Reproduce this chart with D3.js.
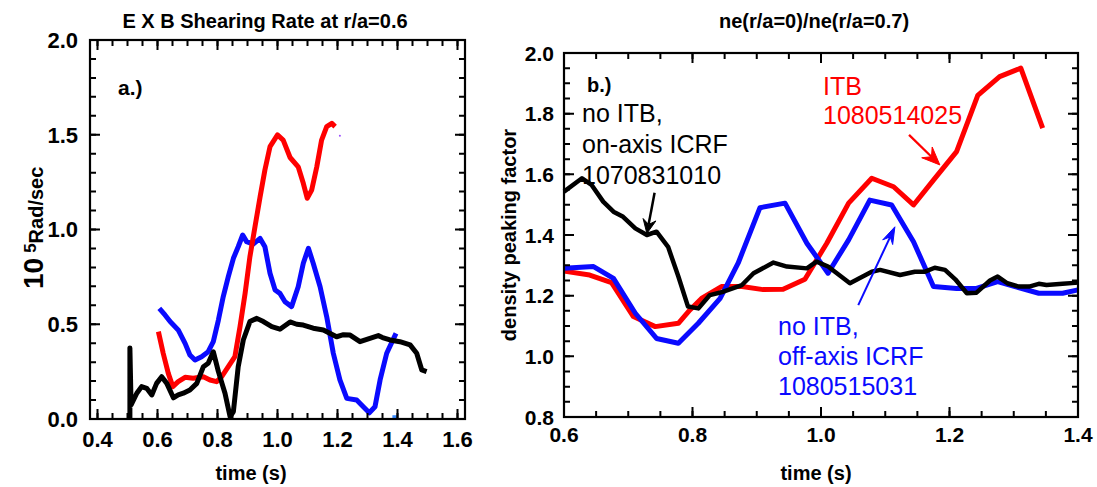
<!DOCTYPE html>
<html>
<head>
<meta charset="utf-8">
<script src="https://cdn.jsdelivr.net/npm/d3@7"></script>
<style>
  html, body { margin: 0; padding: 0; background: #fff; }
  svg { display: block; }
  text { font-family: "Liberation Sans", Arial, Helvetica, sans-serif; }
</style>
</head>
<body>
<svg id="fig" width="1097" height="487"></svg>
<script>
// ---------- panel a: E x B shearing rate at r/a = 0.6 (time [s], 10^5 rad/s) ----------
const shearNoItbOnAxis = [
  [0.508,0.000],[0.508,0.375],[0.512,0.074],[0.531,0.136],[0.547,0.171],[0.564,0.162],
  [0.581,0.127],[0.597,0.188],[0.614,0.223],[0.631,0.188],[0.653,0.112],[0.669,0.127],
  [0.686,0.136],[0.708,0.153],[0.731,0.188],[0.753,0.276],[0.769,0.294],[0.786,0.355],
  [0.803,0.250],[0.825,0.136],[0.842,0.012],[0.853,0.039],[0.869,0.276],[0.886,0.417],
  [0.908,0.514],[0.931,0.531],[0.953,0.514],[0.981,0.487],[1.008,0.474],[1.042,0.512],
  [1.064,0.500],[1.086,0.496],[1.119,0.479],[1.153,0.470],[1.197,0.434],[1.220,0.445],
  [1.242,0.443],[1.275,0.408],[1.308,0.426],[1.336,0.440],[1.350,0.430],[1.375,0.417],
  [1.408,0.408],[1.442,0.391],[1.464,0.347],[1.481,0.259],[1.497,0.250]
];
const shearItb = [
  [0.603,0.461],[0.619,0.347],[0.636,0.241],[0.651,0.171],[0.669,0.197],[0.692,0.220],
  [0.719,0.215],[0.753,0.223],[0.775,0.206],[0.797,0.197],[0.814,0.223],[0.836,0.276],
  [0.858,0.329],[0.875,0.487],[0.892,0.663],[0.908,0.856],[0.925,1.015],[0.942,1.173],
  [0.958,1.314],[0.975,1.437],[1.000,1.499],[1.019,1.472],[1.042,1.380],[1.069,1.331],
  [1.086,1.244],[1.099,1.165],[1.114,1.208],[1.131,1.331],[1.147,1.472],[1.164,1.543],
  [1.181,1.560],[1.192,1.543]
];
const shearNoItbOffAxis = [
  [0.606,0.584],[0.625,0.549],[0.642,0.514],[0.669,0.470],[0.692,0.399],[0.708,0.338],
  [0.725,0.311],[0.747,0.329],[0.769,0.355],[0.786,0.408],[0.803,0.522],[0.819,0.645],
  [0.836,0.751],[0.853,0.848],[0.869,0.909],[0.884,0.971],[0.897,0.936],[0.919,0.923],
  [0.942,0.953],[0.958,0.909],[0.975,0.769],[0.992,0.681],[1.008,0.663],[1.025,0.619],
  [1.047,0.593],[1.069,0.698],[1.086,0.822],[1.103,0.901],[1.119,0.822],[1.142,0.698],
  [1.164,0.540],[1.186,0.347],[1.208,0.206],[1.231,0.109],[1.264,0.100],[1.286,0.065],
  [1.306,0.033],[1.325,0.065],[1.342,0.206],[1.364,0.347],[1.395,0.452]
];
const shearOffAxisTail = [[1.383,0.012],[1.398,0.012]];
const shearStrayPoint = [[1.208,1.495]];

const shearXTicks = [0.4, 0.6, 0.8, 1.0, 1.2, 1.4, 1.6];
const shearYTicks = [0.0, 0.5, 1.0, 1.5, 2.0];

// ---------- panel b: density peaking factor ne(0)/ne(0.7) ----------
const peakNoItbOnAxis = [
  [0.600,1.543],[0.628,1.587],[0.643,1.565],[0.661,1.510],[0.677,1.477],[0.692,1.460],
  [0.711,1.422],[0.729,1.400],[0.744,1.411],[0.762,1.361],[0.778,1.263],[0.793,1.164],
  [0.809,1.158],[0.827,1.202],[0.848,1.213],[0.877,1.235],[0.895,1.274],[0.926,1.309],
  [0.947,1.296],[0.978,1.290],[0.993,1.312],[1.011,1.296],[1.045,1.241],[1.079,1.279],
  [1.092,1.285],[1.123,1.268],[1.146,1.279],[1.162,1.279],[1.177,1.292],[1.193,1.285],
  [1.209,1.254],[1.227,1.208],[1.242,1.210],[1.263,1.250],[1.275,1.263],[1.290,1.241],
  [1.308,1.230],[1.324,1.230],[1.339,1.239],[1.351,1.235],[1.376,1.239],[1.400,1.243]
];
const peakItb = [
  [0.600,1.281],[0.640,1.268],[0.674,1.243],[0.708,1.131],[0.742,1.098],[0.778,1.109],
  [0.796,1.153],[0.814,1.191],[0.845,1.230],[0.877,1.230],[0.910,1.220],[0.941,1.221],
  [0.975,1.254],[1.009,1.373],[1.043,1.505],[1.079,1.587],[1.113,1.559],[1.144,1.499],
  [1.175,1.581],[1.211,1.675],[1.244,1.860],[1.278,1.922],[1.311,1.950],[1.345,1.752]
];
const peakNoItbOffAxis = [
  [0.600,1.290],[0.646,1.296],[0.677,1.257],[0.711,1.142],[0.744,1.059],[0.778,1.043],
  [0.809,1.109],[0.843,1.191],[0.871,1.307],[0.905,1.490],[0.944,1.505],[0.978,1.373],
  [1.011,1.274],[1.043,1.384],[1.076,1.515],[1.110,1.499],[1.144,1.378],[1.175,1.230],
  [1.211,1.224],[1.242,1.224],[1.275,1.246],[1.302,1.230],[1.339,1.208],[1.376,1.208],
  [1.400,1.219]
];
const peakXTicks = [0.6, 0.8, 1.0, 1.2, 1.4];
const peakYTicks = [0.8, 1.0, 1.2, 1.4, 1.6, 1.8, 2.0];

// annotation arrows: [from, to] in data units of panel b
const arrowOnAxis  = [[0.741,1.539],[0.729,1.405]];
const arrowItb     = [[1.137,1.730],[1.185,1.631]];
const arrowOffAxis = [[1.058,1.169],[1.115,1.427]];

const labelOnAxis  = ["no ITB,", "on-axis ICRF", "1070831010"];
const labelItb     = ["ITB", "1080514025"];
const labelOffAxis = ["no ITB,", "off-axis ICRF", "1080515031"];

// ---------- drawing ----------
const RED = "#ff0000", BLUE = "#0a0aff", BLACK = "#000000";
const svg = d3.select("#fig");
svg.append("rect").attr("width", 1097).attr("height", 487).attr("fill", "#fff");

function steps(a, b, step) {
  const out = [];
  const n = Math.round((b - a) / step);
  for (let i = 0; i <= n; i++) out.push(+(a + i * step).toFixed(4));
  return out;
}

// inward-pointing ticks on all four sides, as one path
function tickPath(x, y, xs, ys, len) {
  const [xa, xb] = x.range(), [yb, ya] = y.range();
  const p = d3.path();
  xs.forEach(v => {
    const px = x(v);
    p.moveTo(px, yb); p.lineTo(px, yb - len);
    p.moveTo(px, ya); p.lineTo(px, ya + len);
  });
  ys.forEach(v => {
    const py = y(v);
    p.moveTo(xa, py); p.lineTo(xa + len, py);
    p.moveTo(xb, py); p.lineTo(xb - len, py);
  });
  return p.toString();
}

function drawLabels(g, x, y, opts) {
  const [xa] = x.range(), [yb] = y.range();
  const fmt = d3.format(".1f");
  g.append("g").selectAll("text").data(opts.xMajor).join("text")
    .attr("x", d => x(d)).attr("y", yb + opts.xPad)
    .attr("dy", "0.71em")
    .attr("text-anchor", "middle")
    .style("font-size", opts.tickFont + "px").style("font-weight", "bold")
    .text(fmt);
  g.append("g").selectAll("text").data(opts.yMajor).join("text")
    .attr("x", xa - opts.yPad).attr("y", d => y(d))
    .attr("dy", "0.36em")
    .attr("text-anchor", "end")
    .style("font-size", opts.tickFont + "px").style("font-weight", "bold")
    .text(fmt);
}

// box and tick marks go on the root, above everything else
function drawBox(x, y, opts) {
  const [xa, xb] = x.range(), [yb, ya] = y.range();
  svg.append("rect")
    .attr("x", xa).attr("y", ya).attr("width", xb - xa).attr("height", yb - ya)
    .attr("fill", "none").attr("stroke", "#000").attr("stroke-width", 2.2);
  svg.append("path")
    .attr("d", tickPath(x, y, opts.xMinor, opts.yMinor, 6))
    .attr("fill", "none").attr("stroke", "#000").attr("stroke-width", 2);
  svg.append("path")
    .attr("d", tickPath(x, y, opts.xMajor, opts.yMajor, 10))
    .attr("fill", "none").attr("stroke", "#000").attr("stroke-width", 2);
}

function drawSeries(g, x, y, data, color, width) {
  const line = d3.line().x(d => x(d[0])).y(d => y(d[1]));
  g.append("path").datum(data)
    .attr("d", line)
    .attr("fill", "none")
    .attr("stroke", color)
    .attr("stroke-width", width)
    .attr("stroke-linejoin", "round")
    .attr("stroke-linecap", "butt");
}

function drawArrow(g, x, y, seg, color, width, headLen, headW) {
  const p0 = [x(seg[0][0]), y(seg[0][1])];
  const p1 = [x(seg[1][0]), y(seg[1][1])];
  const dx = p1[0] - p0[0], dy = p1[1] - p0[1];
  const len = Math.hypot(dx, dy);
  const ux = dx / len, uy = dy / len, px = -uy, py = ux;
  const base = [p1[0] - ux * headLen, p1[1] - uy * headLen];
  const notch = [p1[0] - ux * headLen * 0.65, p1[1] - uy * headLen * 0.65];
  g.append("line")
    .attr("x1", p0[0]).attr("y1", p0[1])
    .attr("x2", notch[0]).attr("y2", notch[1])
    .attr("stroke", color).attr("stroke-width", width);
  g.append("path")
    .attr("d", `M${p1[0]},${p1[1]}` +
      `L${base[0] + px * headW / 2},${base[1] + py * headW / 2}` +
      `L${notch[0]},${notch[1]}` +
      `L${base[0] - px * headW / 2},${base[1] - py * headW / 2}Z`)
    .attr("fill", color).attr("stroke", color).attr("stroke-width", 1)
    .attr("stroke-linejoin", "miter");
}

function drawLabel(g, xPos, yPos, lines, color, size, spacing, weight) {
  const t = g.append("text")
    .attr("x", xPos).attr("y", yPos)
    .attr("fill", color)
    .style("font-size", size + "px")
    .style("font-weight", weight || "normal");
  lines.forEach((s, i) => t.append("tspan")
    .attr("x", xPos).attr("dy", i === 0 ? 0 : spacing).text(s));
}

// ----- panel a -----
const ga = svg.append("g");
const xA = d3.scaleLinear().domain([0.375, 1.625]).range([90, 465]);
const yA = d3.scaleLinear().domain([0, 2]).range([419, 40]);
const optsA = {
  xMinor: steps(0.4, 1.6, 0.05), xMajor: shearXTicks,
  yMinor: steps(0, 2, 0.1), yMajor: shearYTicks,
  xPad: 12, yPad: 12, tickFont: 22
};

drawSeries(ga, xA, yA, shearNoItbOffAxis, BLUE, 5);
drawSeries(ga, xA, yA, shearItb, RED, 5);
drawSeries(ga, xA, yA, shearNoItbOnAxis, BLACK, 5);
drawSeries(ga, xA, yA, shearOffAxisTail, "#3a8cff", 3);
ga.selectAll("circle.stray").data(shearStrayPoint).join("circle")
  .attr("class", "stray")
  .attr("cx", d => xA(d[0])).attr("cy", d => yA(d[1])).attr("r", 1)
  .attr("fill", "#9a4cff");
drawLabels(ga, xA, yA, optsA);

ga.append("text").attr("x", 265).attr("y", 28)
  .attr("text-anchor", "middle")
  .style("font-size", "20px").style("font-weight", "bold")
  .text("E X B Shearing Rate at r/a=0.6");
ga.append("text").attr("x", 251).attr("y", 480)
  .attr("text-anchor", "middle")
  .style("font-size", "20px").style("font-weight", "bold")
  .text("time (s)");
ga.append("text").attr("x", 118).attr("y", 95)
  .style("font-size", "21px").style("font-weight", "bold")
  .text("a.)");

const yTitleA = ga.append("text")
  .attr("transform", "translate(43,289) rotate(-90)")
  .style("font-weight", "bold");
yTitleA.append("tspan").style("font-size", "28px").text("10");
yTitleA.append("tspan").style("font-size", "17px").attr("dx", 5).attr("dy", -7).text("5");
yTitleA.append("tspan").style("font-size", "20px").attr("dy", 7).text("Rad/sec");

// ----- panel b -----
const gb = svg.append("g");
const xB = d3.scaleLinear().domain([0.6, 1.4]).range([564, 1078]);
const yB = d3.scaleLinear().domain([0.8, 2.0]).range([417, 53]);
const optsB = {
  xMinor: steps(0.6, 1.4, 0.05), xMajor: peakXTicks,
  yMinor: steps(0.8, 2.0, 0.05), yMajor: peakYTicks,
  xPad: 10, yPad: 10, tickFont: 21
};

drawSeries(gb, xB, yB, peakItb, RED, 5);
drawSeries(gb, xB, yB, peakNoItbOffAxis, BLUE, 5);
drawSeries(gb, xB, yB, peakNoItbOnAxis, BLACK, 4.5);
drawLabels(gb, xB, yB, optsB);

drawArrow(gb, xB, yB, arrowOnAxis, BLACK, 2.5, 14, 13);
drawArrow(gb, xB, yB, arrowItb, RED, 2.2, 18, 15);
drawArrow(gb, xB, yB, arrowOffAxis, BLUE, 2, 17, 11);

drawLabel(gb, 582, 121.5, labelOnAxis, BLACK, 25, 31);
drawLabel(gb, 823, 94.5, labelItb, RED, 25, 29);
drawLabel(gb, 778, 335, labelOffAxis, BLUE, 25, 30);

gb.append("text").attr("x", 587).attr("y", 92)
  .style("font-size", "20px").style("font-weight", "bold")
  .text("b.)");
gb.append("text").attr("x", 814).attr("y", 28)
  .attr("text-anchor", "middle")
  .style("font-size", "20px").style("font-weight", "bold")
  .text("ne(r/a=0)/ne(r/a=0.7)");
gb.append("text").attr("x", 816).attr("y", 480)
  .attr("text-anchor", "middle")
  .style("font-size", "20px").style("font-weight", "bold")
  .text("time (s)");
gb.append("text")
  .attr("transform", "translate(516,235) rotate(-90)")
  .attr("text-anchor", "middle")
  .style("font-size", "20px").style("font-weight", "bold")
  .text("density peaking factor");

// frames last
drawBox(xA, yA, optsA);
drawBox(xB, yB, optsB);
</script>
</body>
</html>
